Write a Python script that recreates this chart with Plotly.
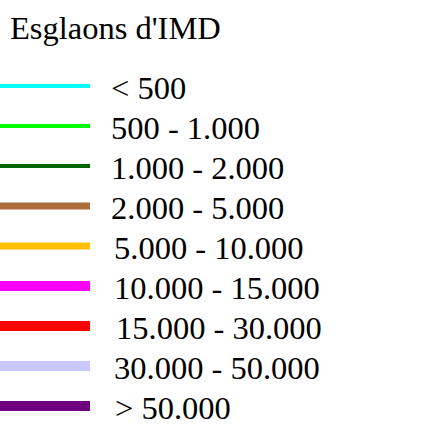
import plotly.graph_objects as go

title = "Esglaons d'IMD"
labels = ["< 500", "500 - 1.000", "1.000 - 2.000", "2.000 - 5.000", "5.000 - 10.000",
          "10.000 - 15.000", "15.000 - 30.000", "30.000 - 50.000", "> 50.000"]
colors = ["#00FFFF", "#00FF00", "#006400", "#AD6E3B", "#FFC000",
          "#FF00FF", "#FF0000", "#C8C8FF", "#6E0080"]
widths = [4, 4, 4, 7, 7, 10, 10, 10, 10]
label_dx = [0, 0, 0, 0, 3, 3, 5, 3, 4]   # small per-label horizontal nudges (px)

W, H = 443, 446
ROW0, ROWH = 86, 40          # pixel position of first row and row spacing
LINE_PX, TEXT_PX = 90, 109   # line length and label start (pixels)
FONT = "Liberation Serif"

fig = go.Figure()
for i, (lab, c, w, dx) in enumerate(zip(labels, colors, widths, label_dx)):
    fig.add_trace(go.Scatter(x=[0, 1], y=[i, i], mode="lines",
                             line=dict(color=c, width=w), showlegend=False,
                             hoverinfo="skip"))
    fig.add_annotation(x=TEXT_PX / LINE_PX, y=i, text=lab, showarrow=False,
                       xanchor="left", yanchor="middle", yshift=-2, xshift=dx,
                       font=dict(family=FONT, size=32.5, color="black"))

fig.add_annotation(x=8 / LINE_PX, y=(28 - ROW0) / ROWH, text=title, showarrow=False,
                   xanchor="left", yanchor="middle",
                   font=dict(family=FONT, size=32.5, color="black"))

fig.update_layout(
    width=W, height=H, margin=dict(l=0, r=0, t=0, b=0),
    paper_bgcolor="white", plot_bgcolor="white",
    xaxis=dict(range=[0, W / LINE_PX], visible=False, fixedrange=True),
    yaxis=dict(range=[(H - ROW0) / ROWH, -ROW0 / ROWH], visible=False, fixedrange=True),
)
fig.write_html("out.html", config={"displayModeBar": False},
               post_script="document.body.style.margin='0';")
